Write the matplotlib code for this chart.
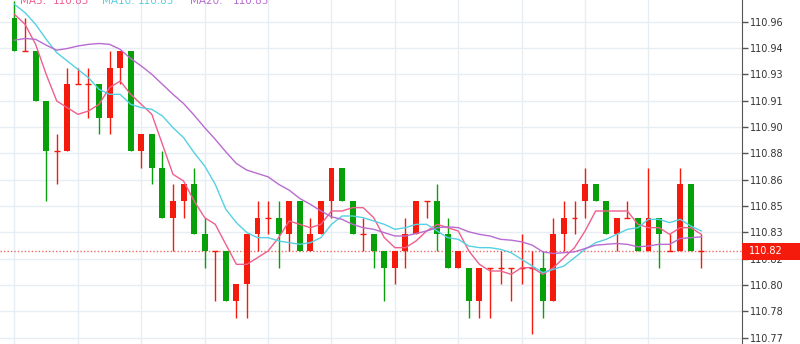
import numpy as np
import pandas as pd
import matplotlib
matplotlib.use("Agg")
import matplotlib.pyplot as plt
import matplotlib.transforms as mtransforms
from matplotlib.patches import Rectangle

# OHLC of the visible candles (oldest first)
opens = [110.96, 110.94, 110.94, 110.91, 110.88, 110.88, 110.92, 110.92, 110.92, 110.90,
         110.93, 110.94, 110.88, 110.89, 110.87, 110.84, 110.85, 110.86, 110.83, 110.82,
         110.82, 110.79, 110.80, 110.83, 110.84, 110.84, 110.83, 110.85, 110.82, 110.83,
         110.85, 110.87, 110.85, 110.83, 110.83, 110.82, 110.81, 110.82, 110.83, 110.85,
         110.85, 110.83, 110.81, 110.81, 110.79, 110.81, 110.81, 110.81, 110.81, 110.81,
         110.81, 110.79, 110.83, 110.84, 110.85, 110.86, 110.85, 110.83, 110.84, 110.84,
         110.82, 110.84, 110.82, 110.82, 110.86, 110.82]
highs = [110.97, 110.96, 110.94, 110.91, 110.89, 110.93, 110.93, 110.93, 110.92, 110.94,
         110.94, 110.94, 110.89, 110.89, 110.88, 110.86, 110.86, 110.87, 110.84, 110.82,
         110.82, 110.80, 110.83, 110.85, 110.85, 110.85, 110.85, 110.85, 110.84, 110.85,
         110.87, 110.87, 110.85, 110.84, 110.83, 110.82, 110.82, 110.84, 110.85, 110.85,
         110.86, 110.84, 110.82, 110.81, 110.81, 110.81, 110.82, 110.81, 110.83, 110.82,
         110.82, 110.84, 110.85, 110.85, 110.87, 110.86, 110.85, 110.84, 110.85, 110.84,
         110.87, 110.84, 110.83, 110.87, 110.86, 110.83]
lows = [110.94, 110.94, 110.91, 110.85, 110.86, 110.88, 110.92, 110.90, 110.89, 110.89,
        110.92, 110.88, 110.87, 110.86, 110.84, 110.82, 110.84, 110.83, 110.81, 110.79,
        110.79, 110.78, 110.78, 110.82, 110.83, 110.81, 110.82, 110.82, 110.82, 110.83,
        110.84, 110.85, 110.83, 110.82, 110.81, 110.79, 110.80, 110.81, 110.83, 110.84,
        110.82, 110.81, 110.81, 110.78, 110.78, 110.78, 110.80, 110.79, 110.80, 110.77,
        110.78, 110.79, 110.82, 110.83, 110.84, 110.85, 110.83, 110.82, 110.84, 110.82,
        110.82, 110.81, 110.82, 110.82, 110.82, 110.81]
closes = [110.94, 110.94, 110.91, 110.88, 110.88, 110.92, 110.92, 110.92, 110.90, 110.93,
          110.94, 110.88, 110.89, 110.87, 110.84, 110.85, 110.86, 110.83, 110.82, 110.82,
          110.79, 110.80, 110.83, 110.84, 110.84, 110.83, 110.85, 110.82, 110.83, 110.85,
          110.87, 110.85, 110.83, 110.83, 110.82, 110.81, 110.82, 110.83, 110.85, 110.85,
          110.83, 110.81, 110.82, 110.79, 110.81, 110.81, 110.81, 110.81, 110.81, 110.81,
          110.79, 110.83, 110.84, 110.84, 110.86, 110.85, 110.83, 110.84, 110.84, 110.82,
          110.84, 110.83, 110.82, 110.86, 110.82, 110.82]
# closes of the candles just left of the window (needed to start the moving averages)
prior_closes = [110.92, 110.92, 110.95, 110.94, 110.90, 110.89, 110.90, 110.89, 110.94, 111.00,
                110.99, 110.98, 110.97, 110.96, 110.97, 110.97, 110.97, 110.97, 110.96]

tick_labels = ["110.77", "110.78", "110.80", "110.82", "110.83", "110.85", "110.86",
               "110.88", "110.90", "110.91", "110.93", "110.94", "110.96"]
ma_periods = [5, 10, 20]
ma_colors = ["#ef5f8c", "#56d0e2", "#b96bd0"]

up_color = "#f41a0c"
down_color = "#07a008"

fig = plt.figure(figsize=(8, 3.44), dpi=100)
ax = fig.add_axes([0, 0, 742 / 800, 1])

x = np.arange(len(closes))
o = np.array(opens)
h = np.array(highs)
l = np.array(lows)
c = np.array(closes)
colors = np.where(c >= o, up_color, down_color)

# wicks
ax.vlines(x, l, h, colors=colors, lw=1, zorder=2)

# bodies
body = np.abs(c - o) > 1e-9
ax.bar(x[body], np.abs(c - o)[body], bottom=np.minimum(o, c)[body], width=0.56,
       color=colors[body], linewidth=0, zorder=3)
doji = ~body
ax.hlines(o[doji], x[doji] - 0.28, x[doji] + 0.28, colors=colors[doji], lw=1, zorder=3)

# moving averages
series = pd.Series(prior_closes + closes)
ma_last = []
for p, col in zip(ma_periods, ma_colors):
    ma = series.rolling(p).mean().iloc[len(prior_closes):].to_numpy()
    ax.plot(x, ma, color=col, lw=1, zorder=4)
    ma_last.append(ma[-1])

# current price line and tag
last = closes[-1]
ax.axhline(last, color="#f06a6a", lw=1, ls=(0, (1, 1.5)), zorder=1.5)
trans = mtransforms.blended_transform_factory(ax.transAxes, ax.transData)
ax.add_patch(Rectangle((1.0, last - 0.0051), 58 / 742, 0.0102, transform=trans,
                       clip_on=False, fc=up_color, ec="none", zorder=6))
ax.text(1.0 + 7 / 742, last, f"{last:.2f}", transform=trans, color="white",
        fontsize=7, va="center", ha="left", clip_on=False, zorder=7)

# legend across the top edge
legend_x = [20, 102, 190]
value_x = [53, 138, 233]
for p, col, v, lx, vx in zip(ma_periods, ma_colors, ma_last, legend_x, value_x):
    fig.text(lx / 800, 1 - 4 / 344, f"MA{p}:", color=col, fontsize=7.5, va="baseline")
    fig.text(vx / 800, 1 - 4 / 344, f"{v:.2f}", color=col, fontsize=7.5, va="baseline")

ax.set_xlim(-1.37, 68.85)
ax.set_ylim(110.7642, 110.9706)

tick_values = 110.768 + 0.0158 * np.arange(len(tick_labels))
ax.yaxis.tick_right()
ax.set_yticks(tick_values)
ax.set_yticklabels(tick_labels)
ax.tick_params(axis="y", direction="out", length=4, width=1, color="#555555",
               labelsize=7, labelcolor="#333333", pad=2)
ax.set_xticks(x[::6])
ax.tick_params(axis="x", length=0, labelbottom=False)
ax.grid(True, color="#e6eef4", lw=1)
ax.set_axisbelow(True)
for s in ["top", "left", "bottom"]:
    ax.spines[s].set_visible(False)
ax.spines["right"].set_color("#555555")

fig.savefig("out.png", dpi=100)
